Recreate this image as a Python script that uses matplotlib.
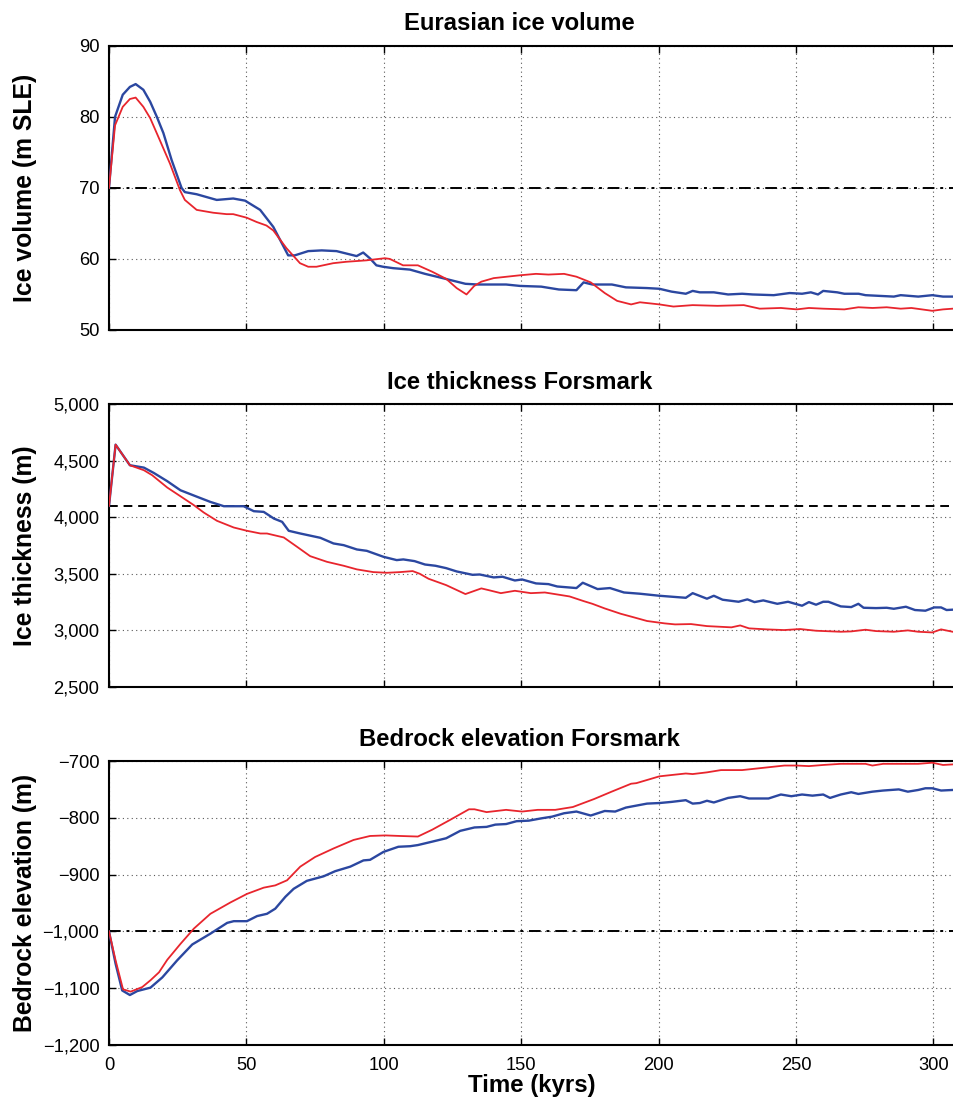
import matplotlib
matplotlib.use("Agg")
import matplotlib.pyplot as plt
from matplotlib.ticker import FuncFormatter, MultipleLocator

plt.rcParams['font.family'] = ['Liberation Sans', 'DejaVu Sans']

# ---------------- data ----------------
# Panel 1: Eurasian ice volume (m SLE)
t_vol_blue = [0, 2.2, 5, 7.6, 9.7, 12.5, 15, 17.4, 19.8, 22.8,
              26.4, 27.6, 31.9, 39.2, 45.2, 49.5, 55, 59.8, 65.2, 67.6,
              72.5, 77.4, 82.8, 90.1, 92.5, 94.9, 97.3, 99.7, 103.4, 109.5,
              115, 121.4, 129.7, 134.2, 144.5, 149.6, 157.3, 163.7, 170.1, 172.7,
              175.9, 183, 188.1, 195.8, 200.3, 204.7, 209.9, 212.4, 215, 220.1,
              225.3, 230.4, 234.2, 241.9, 247.7, 252.2, 255.4, 258, 259.9, 265,
              267.6, 272.8, 275.3, 280.4, 285.6, 288.1, 294.5, 299.6, 303.5, 307]
vol_blue = [70, 80, 83.1, 84.2, 84.6, 83.8, 82.1, 80, 77.7, 73.9,
            70, 69.4, 69.1, 68.3, 68.5, 68.2, 66.9, 64.5, 60.5, 60.5,
            61.1, 61.2, 61.1, 60.4, 60.9, 60.1, 59.1, 58.9, 58.7, 58.5,
            57.9, 57.3, 56.5, 56.4, 56.4, 56.2, 56.1, 55.7, 55.6, 56.7,
            56.4, 56.4, 56.0, 55.9, 55.8, 55.4, 55.1, 55.5, 55.3, 55.3,
            55.0, 55.1, 55.0, 54.9, 55.2, 55.1, 55.3, 55.0, 55.5, 55.3,
            55.1, 55.1, 54.9, 54.8, 54.7, 54.9, 54.7, 54.9, 54.7, 54.7]
t_vol_red = [0, 2.2, 5, 7.6, 9.7, 12.5, 15, 18.5, 22.2, 25.8,
             27.6, 31.9, 37.9, 42.8, 45.2, 50.1, 53.7, 57.3, 59.8, 64.6,
             69.5, 72.5, 75.5, 81.6, 86.4, 93.7, 100.4, 102.2, 107, 112.4,
             117.6, 122.7, 126.5, 130.1, 132.9, 135.5, 140, 149.6, 155.4, 159.9,
             165.6, 170.1, 175.3, 180.4, 184.9, 190, 193.2, 200.3, 205.4, 212.4,
             221.4, 231, 236.8, 244.5, 250.3, 254.7, 259.9, 267.6, 272.7, 277.9,
             283, 288.1, 292, 299.6, 303.5, 307]
vol_red = [70, 78.8, 81.4, 82.5, 82.7, 81.4, 79.8, 76.7, 73.4, 69.7,
           68.3, 66.9, 66.5, 66.3, 66.3, 65.8, 65.2, 64.7, 64.0, 61.5,
           59.4, 58.9, 58.9, 59.4, 59.6, 59.8, 60.1, 60.0, 59.1, 59.1,
           58.2, 57.2, 55.9, 55.0, 56.2, 56.8, 57.3, 57.7, 57.9, 57.8,
           57.9, 57.5, 56.7, 55.2, 54.1, 53.6, 53.9, 53.6, 53.3, 53.5,
           53.4, 53.5, 53.0, 53.1, 52.9, 53.1, 53.0, 52.9, 53.2, 53.1,
           53.2, 53.0, 53.1, 52.7, 52.9, 53.0]
vol_ref = 70

# Panel 2: Ice thickness Forsmark (m)
t_thk_blue = [0, 2.4, 7.6, 12.7, 16.3, 21.2, 26, 32.1, 36.9, 41.8,
              49, 52.7, 56.3, 60, 63, 65.4, 69.6, 76.9, 81.7, 85.4,
              90.2, 93.8, 99.9, 104.7, 107.1, 111.2, 115, 118.8, 122.7, 126.5,
              132.3, 134.9, 140, 143.2, 147.7, 150.3, 155.4, 159.9, 163.1, 170.1,
              172.4, 177.8, 182.3, 187.4, 193.2, 200.3, 209.9, 212.4, 217.6, 220.1,
              223.3, 229.1, 232.3, 234.9, 238.1, 243.2, 247.1, 252.2, 254.7, 257.3,
              259.9, 261.8, 266.3, 270.1, 272.7, 274.6, 279.1, 283, 285.6, 290,
              293.3, 297.1, 300.3, 302.8, 304.8, 307]
thk_blue = [4100, 4641, 4459, 4438, 4391, 4318, 4238, 4180, 4135, 4097,
            4097, 4053, 4047, 3988, 3959, 3880, 3856, 3818, 3768, 3753,
            3715, 3703, 3650, 3621, 3627, 3612, 3582, 3571, 3550, 3521,
            3491, 3494, 3468, 3474, 3441, 3450, 3415, 3409, 3388, 3374,
            3421, 3365, 3374, 3335, 3324, 3306, 3288, 3329, 3280, 3306,
            3271, 3253, 3274, 3250, 3265, 3235, 3253, 3218, 3250, 3227,
            3253, 3253, 3212, 3206, 3235, 3200, 3197, 3200, 3191, 3209,
            3180, 3174, 3203, 3203, 3180, 3183]
t_thk_red = [0, 2.4, 7.6, 12.7, 15.7, 21.2, 26, 30.9, 34.5, 39.3,
             45.4, 50.2, 55.1, 57.5, 63.6, 68.4, 73.2, 79.3, 85.4, 90.2,
             96.2, 101.1, 105.9, 110.5, 113.1, 116.3, 122.7, 129.7, 135.5, 138.1,
             142.6, 147.7, 153.5, 158.6, 167.6, 172.7, 175.9, 180.4, 186.2, 190.6,
             195.8, 202.2, 206, 211.8, 217.6, 226.5, 229.7, 232.9, 239.3, 245.7,
             251.5, 257.3, 266.3, 270.1, 275.3, 279.1, 285.6, 290.7, 294.5, 299.6,
             302.8, 307]
thk_red = [4100, 4641, 4459, 4415, 4371, 4262, 4185, 4106, 4041, 3968,
           3909, 3880, 3856, 3856, 3821, 3739, 3656, 3606, 3571, 3539,
           3515, 3509, 3515, 3524, 3500, 3456, 3400, 3321, 3371, 3356,
           3329, 3350, 3329, 3335, 3300, 3259, 3235, 3194, 3147, 3118,
           3083, 3062, 3053, 3056, 3038, 3027, 3044, 3018, 3009, 3003,
           3012, 2997, 2988, 2991, 3006, 2994, 2988, 3000, 2988, 2982,
           3009, 2988]
thk_ref = 4100

# Panel 3: Bedrock elevation Forsmark (m)
t_bed_blue = [0, 2.4, 4.8, 7.6, 10.3, 15.1, 19.4, 24.8, 30.3, 36.9,
              43, 45.4, 50.2, 53.9, 57.5, 60.5, 64.2, 67.2, 72, 78.1,
              82.3, 87.8, 92.6, 95, 99.9, 105.3, 109.6, 112.4, 117.6, 122.7,
              127.8, 133, 137.4, 140.6, 144.5, 148.3, 152.8, 157.3, 161.2, 165.6,
              170.1, 175.3, 180.4, 184.2, 188.1, 195.8, 200.3, 204.7, 209.9, 212.4,
              215, 217.6, 220.1, 225.3, 229.7, 232.9, 240, 244.5, 248.3, 252.2,
              256, 259.9, 262.4, 266.3, 270.1, 272.7, 277.8, 281.7, 287.4, 290.7,
              294.5, 297.1, 299.6, 302.8, 307]
bed_blue = [-1000, -1057, -1104, -1112, -1105, -1099, -1081, -1051, -1023, -1004,
            -985, -982, -982, -973, -969, -960, -939, -925, -911, -903,
            -894, -886, -875, -874, -860, -851, -850, -848, -842, -836,
            -823, -817, -816, -812, -811, -806, -805, -801, -798, -792,
            -789, -796, -788, -789, -782, -775, -774, -772, -769, -775,
            -774, -770, -773, -765, -762, -766, -766, -759, -762, -759,
            -761, -759, -765, -759, -755, -758, -754, -752, -750, -754,
            -751, -748, -748, -752, -751]
t_bed_red = [0, 2.4, 5.1, 7.9, 12.1, 15.1, 18.2, 21.2, 26, 30.9,
             36.9, 44.2, 50.2, 56.3, 60.5, 64.8, 69.6, 75, 81.7, 89,
             95, 100.5, 105.9, 112.4, 117.6, 124, 131, 133, 137.4, 144.5,
             150.3, 156, 162.4, 168.8, 176.5, 182.9, 190, 191.9, 200.3, 206,
             209.9, 212.4, 217.6, 222.7, 230.4, 238.1, 245.8, 250.3, 254.7, 259.9,
             266.3, 272.7, 275.3, 277.8, 281.7, 288.1, 294.5, 299.6, 303.5, 307]
bed_red = [-1000, -1051, -1102, -1106, -1098, -1086, -1072, -1050, -1022, -995,
           -969, -949, -934, -923, -919, -910, -886, -869, -854, -839,
           -832, -831, -832, -833, -821, -804, -785, -785, -790, -786,
           -789, -786, -786, -781, -767, -754, -740, -739, -727, -724,
           -722, -723, -720, -716, -716, -712, -708, -708, -709, -707,
           -705, -705, -705, -708, -705, -705, -705, -703, -707, -706]
bed_ref = -1000

titles = ["Eurasian ice volume", "Ice thickness Forsmark", "Bedrock elevation Forsmark"]
ylabels = ["Ice volume (m SLE)", "Ice thickness (m)", "Bedrock elevation (m)"]
xlabel = "Time (kyrs)"
x_ticks = [0, 50, 100, 150, 200, 250, 300]

BLUE = "#2b47a0"
RED = "#e8252d"

fig = plt.figure(figsize=(9.54, 11.06), dpi=100)
W, H = 954, 1106
left = 109 / W
width = 1.0 - left
boxes = [(45.7, 330), (404, 687), (761, 1045)]
axes = []
for (top, bot) in boxes:
    ax = fig.add_axes([left, 1 - bot / H, width, (bot - top) / H])
    axes.append(ax)

panels = [
    (t_vol_blue, vol_blue, t_vol_red, vol_red, vol_ref, (50, 90), 10, (0, (6, 3, 1.5, 3))),
    (t_thk_blue, thk_blue, t_thk_red, thk_red, thk_ref, (2500, 5000), 500, (0, (4.5, 3))),
    (t_bed_blue, bed_blue, t_bed_red, bed_red, bed_ref, (-1200, -700), 100, (0, (6, 3, 1.5, 3))),
]

def fmt(v, pos):
    s = f"{abs(int(round(v))):,}"
    return ("\u2212" + s) if v < 0 else s

for i, (ax, p) in enumerate(zip(axes, panels)):
    tb, vb, tr, vr, ref, ylim, step, ls = p
    ax.axhline(ref, color="black", lw=1.4, linestyle=ls, zorder=2)
    ax.plot(tb, vb, color=BLUE, lw=1.7, zorder=3)
    ax.plot(tr, vr, color=RED, lw=1.3, zorder=4)
    ax.set_xlim(0, 307.5)
    ax.set_ylim(*ylim)
    ax.yaxis.set_major_locator(MultipleLocator(step))
    ax.yaxis.set_major_formatter(FuncFormatter(fmt))
    ax.set_xticks(x_ticks)
    ax.grid(True, color="0.35", linestyle=(0, (1, 3)), linewidth=0.8)
    ax.tick_params(direction="in", length=5, width=1, top=True, right=False,
                   labelsize=13.2)
    ax.tick_params(axis="y", pad=7)
    ax.tick_params(axis="x", pad=8.5)
    for s in ["left", "bottom", "top"]:
        ax.spines[s].set_linewidth(1.5)
    ax.spines["right"].set_visible(False)
    ax.set_title(titles[i], fontsize=17.2, fontweight="bold", pad=11, x=0.486)
    ax.set_ylabel(ylabels[i], fontsize=17.8, fontweight="bold")
    ax.yaxis.set_label_coords(-0.0855, 0.5)
    if i < 2:
        ax.tick_params(labelbottom=False)
    else:
        ax.set_xlabel(xlabel, fontsize=17.3, fontweight="bold", labelpad=0)

fig.savefig("out.png", dpi=100)
